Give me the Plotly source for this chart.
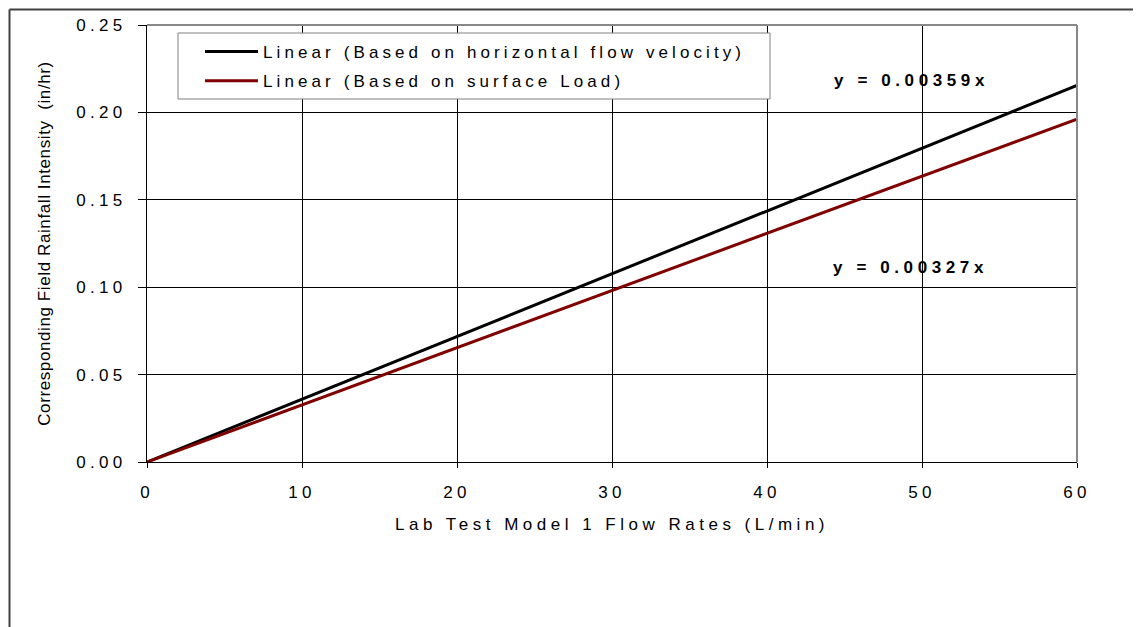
import plotly.graph_objects as go

# ---- data ----
flow_rates = [0, 60]                      # L/min
y_horizontal = [0.0, 0.2154]              # Linear (Based on horizontal flow velocity), y = 0.00359x
y_surface = [0.0, 0.1962]                 # Linear (Based on surface Load), y = 0.00327x
series_names = ["Linear (Based on horizontal flow velocity)", "Linear (Based on surface Load)"]
equation_labels = ["y = 0.00359x", "y = 0.00327x"]
x_title = "Lab Test Model 1 Flow Rates (L/min)"
y_title = "Corresponding Field Rainfall Intensity  (in/hr)"

FONT = "Liberation Sans, Arial, sans-serif"
FS = 17

fig = go.Figure()
fig.add_trace(go.Scatter(x=flow_rates, y=y_horizontal, mode="lines", name=series_names[0],
                         legendgroup="a", line=dict(color="#000000", width=3)))
fig.add_trace(go.Scatter(x=flow_rates, y=y_surface, mode="lines", name=series_names[1],
                         legendgroup="b", line=dict(color="#800000", width=3)))

# page has the default 8px body margin; figure fills the rest of the window
OFF = 8
W, H = 1141 - OFF, 627 - OFF
PL, PR, PT, PB = 147, 1077, 25, 462          # plot area in page pixels
L, T = PL - OFF, PT - OFF
R, B = W - (PR - OFF), H - (PB - OFF)
pw, ph = W - L - R, H - T - B

def px(xp):
    return (xp - PL) / pw

def py(yp):
    return (PB - yp) / ph

shapes = [
    # outer chart border (left and top edges visible)
    dict(type="line", xref="paper", yref="paper", x0=px(9.5), x1=px(1160), y0=py(9.5), y1=py(9.5),
         line=dict(color="#404040", width=2), layer="above"),
    dict(type="line", xref="paper", yref="paper", x0=px(9.5), x1=px(9.5), y0=py(9.5), y1=py(660),
         line=dict(color="#404040", width=2), layer="above"),
    # plot area top / right border (gray)
    dict(type="line", xref="paper", yref="paper", x0=0, x1=1, y0=1, y1=1,
         line=dict(color="#888888", width=2), layer="above"),
    dict(type="line", xref="paper", yref="paper", x0=1, x1=1, y0=0, y1=1,
         line=dict(color="#888888", width=2), layer="above"),
    # legend box
    dict(type="rect", xref="paper", yref="paper", x0=px(178), x1=px(770), y0=py(33), y1=py(99),
         line=dict(color="#808080", width=1), fillcolor="#ffffff", layer="above"),
]

annotations = [
    dict(text="<b>%s</b>" % equation_labels[0], xref="paper", yref="paper", x=px(832), y=py(80),
         xanchor="left", yanchor="middle", align="left", showarrow=False,
         font=dict(family=FONT, size=FS, color="#000")),
    dict(text="<b>%s</b>" % equation_labels[1], xref="paper", yref="paper", x=px(831), y=py(267),
         xanchor="left", yanchor="middle", align="left", showarrow=False,
         font=dict(family=FONT, size=FS, color="#000")),
]

fig.update_layout(
    width=W, height=H,
    margin=dict(l=L, r=R, t=T, b=B, autoexpand=False),
    paper_bgcolor="#ffffff", plot_bgcolor="#ffffff",
    font=dict(family=FONT, size=FS, color="#000000"),
    showlegend=True,
    legend=dict(x=px(200), y=py(34), xanchor="left", yanchor="top",
                bgcolor="rgba(0,0,0,0)", borderwidth=0, itemwidth=53,
                traceorder="grouped", tracegroupgap=4,
                font=dict(family=FONT, size=FS, color="#000")),
    shapes=shapes,
    annotations=annotations,
    xaxis=dict(range=[0, 60], dtick=10, tick0=0, showgrid=True, gridcolor="#000000", gridwidth=1,
               zeroline=False, showline=True, linecolor="#000000", linewidth=1,
               ticks="outside", ticklen=5, tickcolor="#000000", ticklabelstandoff=10,
               tickfont=dict(family=FONT, size=FS),
               title=dict(text=x_title, standoff=16, font=dict(family=FONT, size=FS))),
    yaxis=dict(range=[0, 0.25], dtick=0.05, tick0=0, tickformat=".2f", showgrid=True,
               gridcolor="#000000", gridwidth=1, zeroline=False, showline=True,
               linecolor="#000000", linewidth=1, ticks="outside", ticklen=8, tickcolor="#000000",
               ticklabelstandoff=8, tickfont=dict(family=FONT, size=FS),
               title=dict(text=y_title, standoff=38, font=dict(family=FONT, size=FS))),
)

css = ("html,body{overflow:hidden;scrollbar-width:none}"
       "::-webkit-scrollbar{display:none;width:0;height:0}"
       ".xtick text,.ytick text{letter-spacing:4.3px}"
       ".legendtext{letter-spacing:4.1px}"
       ".legend .scrollbox{clip-path:none !important}"
       ".xtitle{letter-spacing:4.5px}"
       ".ytitle{letter-spacing:0.6px}"
       ".annotation-text{letter-spacing:4.6px}")
post = "var s=document.createElement('style');s.textContent='%s';document.head.appendChild(s);" % css

fig.write_html("out.html", post_script=post, config={"displayModeBar": False})
